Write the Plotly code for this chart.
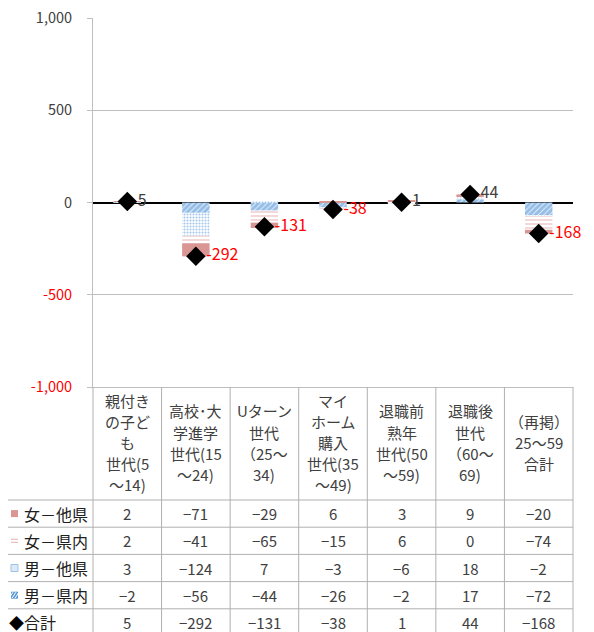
import plotly.graph_objects as go

# ---------------- data ----------------
header_lines = [
    ["親付き", "の子ど", "も", "世代(5", "～14)"],
    ["高校･大", "学進学", "世代(15", "～24)"],
    ["Uターン", "世代", "（25～", "34)"],
    ["マイ", "ホーム", "購入", "世代(35", "～49)"],
    ["退職前", "熟年", "世代(50", "～59)"],
    ["退職後", "世代", "（60～", "69)"],
    ["（再掲）", "25～59", "合計"],
]
categories = ["".join(l) for l in header_lines]

series_names = ["女－他県", "女－県内", "男－他県", "男－県内"]
female_other = [2, -71, -29, 6, 3, 9, -20]
female_inpref = [2, -41, -65, -15, 6, 0, -74]
male_other = [3, -124, 7, -3, -6, 18, -2]
male_inpref = [-2, -56, -44, -26, -2, 17, -72]
total = [5, -292, -131, -38, 1, 44, -168]
total_name = "合計"

y_tickvals = [-1000, -500, 0, 500, 1000]

# ---------------- styles ----------------
FONT = "Noto Sans CJK JP"
RED = "#FF0000"
DARK = "#404040"
GRID = "#BFBFBF"
TABLE_LINE = "#B0B0B0"

W, H = 586, 624
ML, MR, MT, MB = 85, 21, 10, 245
PW = W - ML - MR
PH = H - MT - MB

styles = {
    "女－他県": dict(color="#D99694"),
    "女－県内": dict(color="white", pattern=dict(shape="-", fgcolor="#E3A9A8", bgcolor="white", size=4, solidity=0.45)),
    "男－他県": dict(color="white", pattern=dict(shape=".", fgcolor="#4A90D9", bgcolor="white", size=3, solidity=0.4)),
    "男－県内": dict(color="white", pattern=dict(shape="/", fgcolor="#2A7BCF", bgcolor="white", size=4, solidity=0.8)),
}
values = {
    "女－他県": female_other,
    "女－県内": female_inpref,
    "男－他県": male_other,
    "男－県内": male_inpref,
}

fig = go.Figure()
idx = list(range(len(categories)))
# stacking order from zero outward
for name in ["男－県内", "男－他県", "女－県内", "女－他県"]:
    fig.add_trace(go.Bar(
        x=idx, y=values[name], name=name, width=0.4,
        marker=dict(line=dict(width=0), **styles[name]),
        showlegend=False,
    ))

fig.add_trace(go.Scatter(
    x=idx, y=total, name=total_name, mode="markers+text",
    marker=dict(symbol="diamond", size=15, color="black"),
    text=[str(v) for v in total], textposition="middle right",
    textfont=dict(family=FONT, size=16, color=[RED if v < 0 else DARK for v in total]),
    showlegend=False, cliponaxis=False,
))

ticktext = []
for v in y_tickvals:
    s = f"{v:,}"
    ticktext.append(f'<span style="color:{RED}">{s}</span>' if v < 0 else s)

fig.update_layout(
    width=W, height=H,
    margin=dict(l=ML, r=MR, t=MT, b=MB, autoexpand=False),
    paper_bgcolor="white", plot_bgcolor="white",
    barmode="relative",
    font=dict(family=FONT, color=DARK),
    xaxis=dict(range=[-0.5, len(categories) - 0.5], showticklabels=False, showgrid=False,
               zeroline=False, showline=True, linecolor=GRID, linewidth=1, ticks=""),
    yaxis=dict(range=[-1000, 1000], tickvals=y_tickvals, ticktext=ticktext,
               tickfont=dict(family=FONT, size=14.5, color=DARK),
               showgrid=True, gridcolor=GRID, gridwidth=1,
               zeroline=True, zerolinecolor="black", zerolinewidth=2,
               showline=True, linecolor=GRID, linewidth=1,
               ticks="outside", ticklen=5, tickcolor=GRID, ticklabelstandoff=12,
               ticklabeloverflow="allow"),
)

# ---------------- data table ----------------
def yp(px_below):
    """paper y for a pixel distance below the plot bottom"""
    return -px_below / PH

def xp_px(px):
    """paper x for a pixel offset relative to plot left (screen px)"""
    return (px - 93) / PW

ncol = len(categories)
def xcol(b):
    return b / ncol

header_h = 113
row_h = 27.2
table_rows = [
    ("女－他県", female_other),
    ("女－県内", female_inpref),
    ("男－他県", male_other),
    ("男－県内", male_inpref),
    (total_name, total),
]
table_bottom = header_h + row_h * len(table_rows) + 10

shapes = []
line = dict(color=TABLE_LINE, width=1)
for b in range(ncol + 1):
    shapes.append(dict(type="line", xref="paper", yref="paper",
                       x0=xcol(b), x1=xcol(b), y0=0, y1=yp(table_bottom), line=line))
for r in range(len(table_rows)):
    y = yp(header_h + r * row_h)
    shapes.append(dict(type="line", xref="paper", yref="paper",
                       x0=xp_px(6), x1=1, y0=y, y1=y, line=line))
shapes.append(dict(type="line", xref="paper", yref="paper",
                   x0=xp_px(6), x1=xp_px(6), y0=yp(header_h), y1=yp(table_bottom), line=line))

annotations = []
line_gap = 21
for i, lines in enumerate(header_lines):
    n = len(lines)
    center = header_h / 2 - 1
    for k, t in enumerate(lines):
        off = center + (k - (n - 1) / 2) * line_gap
        annotations.append(dict(x=xcol(i + 0.5), y=yp(off), xref="paper", yref="paper",
                                text=t, showarrow=False, xanchor="center", yanchor="middle",
                                font=dict(family=FONT, size=15, color=DARK)))

def fmt(v):
    return str(v) if v >= 0 else "−" + str(-v)

for r, (name, vals) in enumerate(table_rows):
    yc = yp(header_h + (r + 0.5) * row_h)
    for i, v in enumerate(vals):
        annotations.append(dict(x=xcol(i + 0.5), y=yc, xref="paper", yref="paper",
                                text=fmt(v), showarrow=False, xanchor="center", yanchor="middle",
                                font=dict(family=FONT, size=15, color=DARK)))
    annotations.append(dict(x=xp_px(22), y=yc, xref="paper", yref="paper",
                            text=name, showarrow=False, xanchor="left", yanchor="middle",
                            font=dict(family=FONT, size=16, color="#202020")))

sw = 7
sx0, sx1 = xp_px(11), xp_px(11 + sw)
for r, name in enumerate(series_names):
    yc_px = header_h + (r + 0.5) * row_h
    y0, y1 = yp(yc_px - sw / 2), yp(yc_px + sw / 2)
    if name == "女－他県":
        shapes.append(dict(type="rect", xref="paper", yref="paper", x0=sx0, x1=sx1, y0=y0, y1=y1,
                           fillcolor="#D99694", line=dict(width=0)))
    elif name == "女－県内":
        for d in (-1.5, 1.5):
            yy = yp(yc_px + d)
            shapes.append(dict(type="line", xref="paper", yref="paper", x0=sx0, x1=sx1, y0=yy, y1=yy,
                               line=dict(color="#E6B0AF", width=1)))
    elif name == "男－他県":
        shapes.append(dict(type="rect", xref="paper", yref="paper", x0=sx0, x1=sx1, y0=y0, y1=y1,
                           fillcolor="#DCEAF7", line=dict(color="#9DC3E6", width=1)))
    else:
        shapes.append(dict(type="rect", xref="paper", yref="paper", x0=sx0, x1=sx1, y0=y0, y1=y1,
                           fillcolor="#5B9BD5", line=dict(width=0)))
        for d in (-2, 1, 4):
            shapes.append(dict(type="line", xref="paper", yref="paper",
                               x0=xp_px(11 + d), x1=xp_px(11 + d + 4),
                               y0=yp(yc_px + sw / 2 - 0.5), y1=yp(yc_px - sw / 2 + 0.5),
                               line=dict(color="white", width=1)))
annotations.append(dict(x=xp_px(16), y=yp(header_h + 4.5 * row_h), xref="paper", yref="paper",
                        text="◆", showarrow=False, xanchor="center", yanchor="middle",
                        font=dict(family=FONT, size=15, color="black")))

fig.update_layout(shapes=shapes, annotations=annotations)
fig.write_html("out.html")
